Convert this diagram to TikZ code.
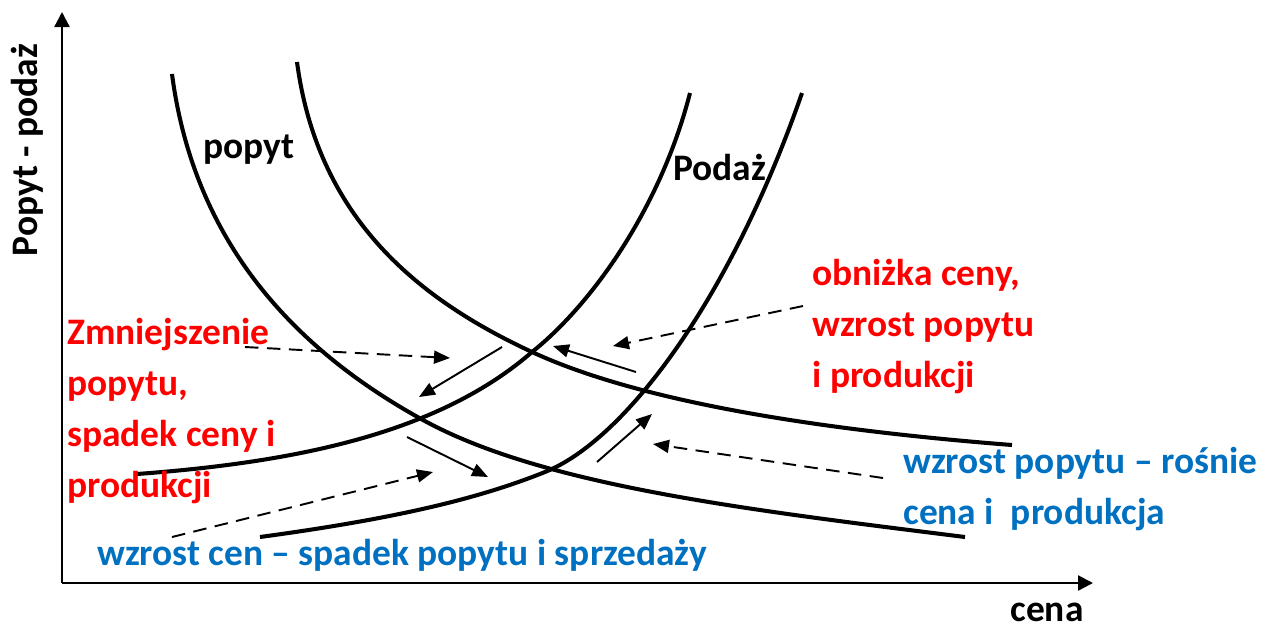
\documentclass[tikz,border=0pt]{standalone}
\usepackage{fontspec}
\setmainfont{Carlito}
\usepackage{xcolor}
\usetikzlibrary{arrows.meta}
\definecolor{noteRed}{HTML}{FF0000}
\definecolor{noteBlue}{HTML}{0070C0}

\begin{document}
\begin{tikzpicture}[
            x=0.02cm, y=-0.02cm,
            curveline/.style={
                line width=2.3pt,
                line cap=butt
            },
            axisarrow/.style={
                line width=1.3pt,
                -{Triangle[length=0.3cm,width=0.3cm]}
            },
            shiftarrow/.style={
                line width=1.1pt,
                -{Triangle[length=0.32cm,width=0.26cm]}
            },
            notearrow/.style={
                shiftarrow,
                dash pattern=on 0.27cm off 0.17cm
            },
            curvelabel/.style={
                font=\fontsize{21.3}{29}\selectfont\bfseries,
                inner sep=0pt,
                anchor=base west
            },
            rednote/.style={
                curvelabel,
                text=noteRed,
                align=left
            },
            bluenote/.style={
                curvelabel,
                text=noteBlue,
                align=left
            }
        ]

        \useasboundingbox (0,0) rectangle (1267,630);

        % --- Axes ---
        \coordinate (origin) at (62,583);
        \coordinate (ytip) at (62,12);
        \coordinate (xtip) at (1093,583);

        \draw[axisarrow] (origin) -- (ytip);
        \draw[axisarrow] (origin) -- (xtip);

        \node[curvelabel, anchor=center, rotate=90] (ylabel) at (27,150)
            {Popyt - podaż};
        \node[curvelabel, anchor=base] (xlabel) at (1047,621)
            {cena};

        % --- Demand curves ---
        \draw[curveline] (172,74)
            .. controls (195,250) and (303,354) .. (423,420)
            .. controls (543,486) and (750,510) .. (965,537);

        \draw[curveline] (297,62)
            .. controls (318,220) and (420,300) .. (532,352)
            .. controls (640,402) and (820,430) .. (1012,445);

        % --- Supply curves ---
        \draw[curveline] (137,474)
            .. controls (300,462) and (440,432) .. (532,352)
            .. controls (590,306) and (660,210) .. (690,93);

        \draw[curveline] (260,537)
            .. controls (400,518) and (480,498) .. (545,472)
            .. controls (625,440) and (730,300) .. (802,93);

        \node[curvelabel] (demandlabel) at (203,158) {popyt};
        \node[curvelabel] (supplylabel) at (673,180) {Podaż};

        % --- Notes (base = last line) ---
        \node[rednote] (dropnote) at (67,497)
            {Zmniejszenie\\popytu,\\spadek ceny i\\produkcji};

        \node[rednote] (cutnote) at (812,387)
            {obniżka ceny,\\wzrost popytu\\i produkcji};

        \node[bluenote] (risenote) at (903,524)
            {wzrost popytu – rośnie\\cena i \ produkcja};

        \node[bluenote] (pricenote) at (97,565)
            {wzrost cen – spadek popytu i sprzedaży};

        % --- Shift arrows ---
        \coordinate (dropfrom) at (502,347);
        \coordinate (dropto) at (419,397);
        \coordinate (cutfrom) at (636,372);
        \coordinate (cutto) at (553,346);
        \coordinate (pricefrom) at (407,437);
        \coordinate (priceto) at (488,477);
        \coordinate (risefrom) at (597,462);
        \coordinate (riseto) at (652,414);

        \draw[shiftarrow] (dropfrom) -- (dropto);
        \draw[shiftarrow] (cutfrom) -- (cutto);
        \draw[shiftarrow] (pricefrom) -- (priceto);
        \draw[shiftarrow] (risefrom) -- (riseto);

        % --- Note pointers ---
        \coordinate (dropstart) at (245,347);
        \coordinate (dropend) at (450,358);
        \coordinate (cutstart) at (803,306);
        \coordinate (cutend) at (613,346);
        \coordinate (risestart) at (883,478);
        \coordinate (riseend) at (653,444);
        \coordinate (pricestart) at (172,537);
        \coordinate (priceend) at (433,472);

        \draw[notearrow] (dropstart) -- (dropend);
        \draw[notearrow] (cutstart) -- (cutend);
        \draw[notearrow] (risestart) -- (riseend);
        \draw[notearrow] (pricestart) -- (priceend);

        \end{tikzpicture}
\end{document}
